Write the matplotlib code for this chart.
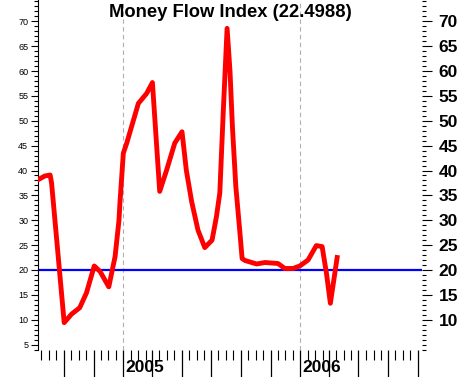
import matplotlib
matplotlib.use("Agg")
import matplotlib.pyplot as plt
import matplotlib.dates as mdates
import matplotlib.transforms as mtransforms
import numpy as np
import pandas as pd

plt.rcParams['font.family'] = ['Liberation Sans', 'DejaVu Sans']

# Money Flow Index readings
dates = ["2004-07-10", "2004-07-23", "2004-08-03", "2004-08-06", "2004-09-01",
         "2004-09-16", "2004-10-03", "2004-10-17", "2004-11-02", "2004-11-14",
         "2004-12-02", "2004-12-15", "2004-12-23", "2004-12-25", "2005-01-01",
         "2005-01-08", "2005-02-01", "2005-02-18", "2005-03-02", "2005-03-17",
         "2005-03-31", "2005-04-17", "2005-05-02", "2005-05-11", "2005-05-22",
         "2005-06-04", "2005-06-18", "2005-07-03", "2005-07-12", "2005-07-19",
         "2005-07-26", "2005-08-03", "2005-08-09", "2005-08-14", "2005-08-21",
         "2005-08-29", "2005-09-03", "2005-09-09", "2005-10-03", "2005-10-20",
         "2005-11-16", "2005-11-30", "2005-12-17", "2005-12-31", "2006-01-17",
         "2006-02-03", "2006-02-15", "2006-02-24", "2006-03-04", "2006-03-18"]
mfi = [38.2, 38.9, 39.1, 37.5, 9.4,
       11.1, 12.4, 15.4, 20.8, 19.7,
       16.6, 22.7, 30.0, 33.5, 43.5,
       45.5, 53.5, 55.5, 57.7, 35.8,
       40.0, 45.5, 47.8, 40.0, 33.7,
       28.0, 24.5, 26.0, 30.7, 35.5,
       51.6, 68.6, 60.0, 48.8, 36.8,
       28.0, 22.3, 21.9, 21.2, 21.5,
       21.3, 20.3, 20.3, 20.8, 22.0,
       24.9, 24.7, 19.3, 13.3, 22.5]
level = 20
years = ["2005-01-01", "2006-01-01"]
year_labels = ["2005", "2006"]
title = "Money Flow Index (22.4988)"

x = pd.to_datetime(dates)
yrs = pd.to_datetime(years)

fig = plt.figure(figsize=(4.61, 3.77), dpi=100)
ax = fig.add_axes([38/461, 1 - 350/377, 384/461, 350/377])

ax.axhline(level, color='#0000ff', lw=1.6, zorder=2)
ax.plot(x, mfi, color='#ff0000', lw=3.5, zorder=3, solid_joinstyle='round')
for yr in yrs:
    ax.axvline(yr, color='#b0b0b0', lw=0.8, ls=(0, (4, 3)), zorder=1)

ax.set_xlim(pd.Timestamp("2004-07-09"), pd.Timestamp("2006-09-09"))
ax.set_ylim(3.9, 74.3)

# y axis: small labels on the left, bold ones on the right
ax.set_yticks(np.arange(5, 75, 5))
ax.set_yticks(np.arange(4, 75, 1), minor=True)
ax.tick_params(axis='y', which='major', length=5, width=0.8, labelsize=6.5, pad=2)
ax.tick_params(axis='y', which='minor', length=3, width=0.8)
ax2 = ax.twinx()
ax2.set_ylim(ax.get_ylim())
ax2.set_yticks(np.arange(10, 75, 5))
ax2.set_yticks(np.arange(4, 75, 1), minor=True)
ax2.tick_params(axis='y', which='major', direction='out', length=7, width=0.8, pad=5)
ax2.tick_params(axis='y', which='minor', direction='out', length=3, width=0.8)
for lab in ax2.get_yticklabels():
    lab.set_fontsize(12.5)
    lab.set_fontweight('bold')
for s in ['top', 'right', 'bottom']:
    ax.spines[s].set_visible(False)
    ax2.spines[s].set_visible(False)
ax2.spines['left'].set_visible(False)

# x axis ticks
ax.xaxis.set_major_locator(mdates.MonthLocator(bymonth=[1, 3, 5, 7, 9, 11]))
ax.xaxis.set_minor_locator(mdates.MonthLocator(bymonthday=[1, 16]))
ax.xaxis.set_major_formatter(plt.NullFormatter())
ax.tick_params(axis='x', which='major', length=26, width=0.9, pad=0)
ax.tick_params(axis='x', which='minor', length=7, width=0.8)

trans = mtransforms.blended_transform_factory(ax.transData, ax.transAxes)
for yr, lab in zip(yrs, year_labels):
    ax.text(yr + pd.Timedelta(days=5), -0.05, lab, transform=trans, ha='left',
            va='center', fontsize=12.5, fontweight='bold', clip_on=False)

ax.text(0.5, 0.963, title, transform=ax.transAxes, ha='center', va='center',
        fontsize=13.2, fontweight='bold')

fig.savefig("out.png", dpi=100)
